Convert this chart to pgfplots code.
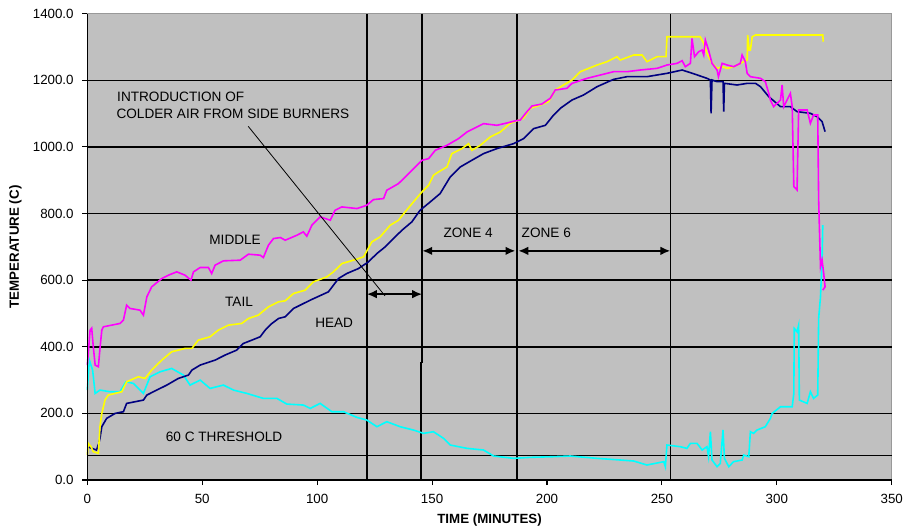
\documentclass[border=0pt]{standalone}
\usepackage{pgfplots}
\pgfplotsset{compat=1.18}
\usepackage{fontspec}
\setmainfont{Liberation Sans}
\usetikzlibrary{arrows.meta}
\definecolor{bggray}{RGB}{192,192,192}
\definecolor{cmag}{RGB}{255,0,255}
\definecolor{cyel}{RGB}{255,255,0}
\definecolor{cnavy}{RGB}{0,0,128}
\definecolor{ccyan}{RGB}{0,255,255}
\begin{document}
\begin{tikzpicture}
\useasboundingbox (-65.5pt,-36.75pt) rectangle (612.5pt,360pt);
\begin{axis}[
  scale only axis,
  width=603.3pt, height=349.7pt,
  xmin=0, xmax=350, ymin=0, ymax=1400,
  xtick={0,50,...,350}, ytick={0,200,...,1400},
  xtick pos=left, ytick pos=left,
  tick align=outside, major tick length=3.75pt,
  tick style={black, line width=0.8pt},
  axis background/.style={fill=bggray},
  axis line style={draw=black!40, line width=0.8pt},
  /pgf/number format/assume math mode=true,
  yticklabel={\pgfmathprintnumber[fixed,fixed zerofill,precision=1,1000 sep={}]{\tick}},
  yticklabel shift=3pt,
  xticklabel shift=3pt,
  ticklabel style={font=\fontsize{10}{12}\selectfont},
  xlabel={TIME (MINUTES)}, ylabel={TEMPERATURE (C)},
  label style={font=\fontsize{10}{12}\selectfont\bfseries},
  xlabel style={at={(axis description cs:0.5,-0.0858)}, anchor=center},
  ylabel style={at={(axis description cs:-0.0895,0.5)}, anchor=center},
  clip=false,
]
% grid and reference lines
\foreach \yy in {200,400,600,800,1000,1200,73} {
  \edef\tmp{\noexpand\draw[black, line width=1.1pt] (axis cs:0,\yy) -- (axis cs:350,\yy);}\tmp
}
\draw[black, line width=1.1pt] (axis cs:121.6,0) -- (axis cs:121.6,1400);
\draw[black, line width=1.1pt] (axis cs:145.7,1400) -- (axis cs:145.7,351);
\draw[black, line width=1.1pt] (axis cs:145.1,354) -- (axis cs:145.1,0);
\draw[black, line width=1.1pt] (axis cs:186.9,0) -- (axis cs:186.9,1400);
\draw[black, line width=1.1pt] (axis cs:253.7,0) -- (axis cs:253.7,1400);

% 60 C threshold / cyan
\addplot[ccyan, line width=1.2pt] coordinates {
(0,270) (0.9,360) (2.3,330) (3.4,260) (5.5,270) (9.9,265) (14.2,265) (16.8,295) (20,290) (24.4,260) (27.3,310) (31.7,325) (36.7,335) (41.8,315) (44.7,285) (49.1,300) (53.4,275) (59.2,285) (63.6,270) (69.4,260) (76.6,245) (82.5,245) (86.8,228) (94,225) (97,215) (101.3,230) (106.4,205) (111.5,205) (117.3,188) (121.6,180) (126,160) (130.3,175) (136.1,160) (141.9,150) (146.3,140) (150.6,145) (155,125) (157.9,105) (165.2,95) (172.4,90) (176.8,72) (185.5,65) (192.7,68) (202.9,70) (210.1,72) (221.8,65) (231.9,60) (237.7,57) (243.5,45) (250.8,55) (251.5,40) (252.2,105) (258,100) (260.9,95) (262.4,110) (265.3,110) (267.5,90) (269.6,100) (270.3,70) (271.1,145) (271.8,60) (274,40) (275.4,50) (276.6,150) (277.2,65) (279.1,40) (281.2,55) (284.9,60) (285.6,75) (287.8,70) (288.5,145) (289.9,140) (291.4,150) (295,160) (297.2,185) (298,200) (301.6,220) (306.7,220) (307.4,260) (307.6,455) (308.8,445) (309.5,465) (309.8,240) (313.2,230) (314.6,265) (316,245) (317.8,255) (318.2,485) (319,550) (319.7,660) (320,765)
};
% HEAD / navy
\addplot[cnavy, line width=1.2pt] coordinates {
(0,100) (2,95) (4,90) (5,110) (5.5,125) (6.3,160) (8.4,185) (12.1,200) (15.7,205) (17.1,230) (20.8,235) (24.4,240) (25.9,255) (30.2,270) (34.6,285) (39.6,305) (44,315) (45.5,330) (49.1,345) (55.6,360) (59.9,375) (65,390) (67.9,410) (71.6,420) (75.2,430) (77.4,450) (80.3,470) (83.2,485) (86.1,490) (89.7,515) (97,540) (104.9,565) (109.3,605) (112.9,620) (118,635) (122.3,655) (126,680) (129.6,700) (133.2,725) (136.9,750) (141.2,775) (144.8,810) (149.2,835) (153.5,860) (157.9,910) (162.3,940) (167.3,960) (172.4,980) (178.2,995) (185.5,1010) (189.8,1025) (194.2,1055) (199.3,1065) (202.9,1096) (205.8,1116) (210.9,1141) (215.9,1156) (221.8,1181) (229,1203) (234.8,1211) (243.5,1211) (252.2,1221) (258.8,1231) (262.4,1223) (266.7,1213) (269.6,1206) (271.1,1201) (271.4,1101) (271.8,1201) (274,1196) (276.6,1196) (276.9,1106) (277.2,1191) (282.7,1186) (287.1,1191) (290.7,1191) (292.9,1181) (296.5,1151) (301.6,1121) (305.9,1121) (308.8,1106) (314.6,1101) (317.5,1091) (319.7,1076) (321,1046)
};
% TAIL / yellow
\addplot[cyel, line width=1.2pt] coordinates {
(0,75) (0.4,110) (1.6,100) (2.6,85) (4.8,80) (5.5,160) (6.3,200) (7.7,240) (9.1,255) (15,265) (17.1,295) (22.2,310) (25.1,305) (28,330) (32.4,360) (36.7,385) (42.5,395) (45.5,395) (48.3,420) (53.4,430) (57,450) (61.4,465) (67.2,470) (70.1,485) (74.4,495) (78.8,520) (83.2,535) (86.1,538) (89.7,560) (94.8,570) (98.4,595) (104.2,610) (107.1,625) (110.8,650) (115.8,660) (120.2,670) (123.8,715) (127.4,730) (131.8,765) (135.4,780) (138.3,805) (141.9,835) (145.6,865) (148.5,885) (150.6,915) (152.8,925) (156.5,940) (158.6,980) (163,995) (165.9,1010) (167.3,990) (171,1005) (175.3,1030) (179.7,1045) (184,1071) (189.8,1086) (192.7,1116) (197.1,1126) (200.7,1136) (203.6,1171) (207.2,1186) (210.9,1201) (214.5,1226) (221.8,1246) (226.1,1256) (230.5,1271) (231.9,1261) (237.7,1276) (241.4,1276) (243.5,1256) (247.9,1271) (251.8,1271) (252.2,1331) (266.7,1331) (268.2,1311) (269.6,1281) (271.8,1251) (274,1236) (276.2,1241) (278.4,1236) (281.2,1241) (285.6,1256) (287.1,1261) (287.3,1336) (288,1291) (288.5,1291) (289.3,1331) (290.7,1336) (320,1336) (320.2,1316)
};
% MIDDLE / magenta
\addplot[cmag, line width=1.2pt] coordinates {
(0,345) (1.2,450) (1.9,456) (2.6,400) (3.4,345) (4.8,340) (5.5,395) (6.3,450) (7,460) (10.6,465) (14.2,470) (15.7,480) (17.1,525) (18.6,515) (22.9,510) (24.4,495) (25.9,550) (28,580) (32.4,605) (35.3,615) (38.9,625) (42.5,615) (45.1,600) (46.2,625) (49.1,638) (52.7,638) (54.1,620) (55.6,645) (59.2,658) (66.5,660) (70.1,678) (75.2,675) (76.6,668) (78.8,705) (81,725) (84,728) (86.1,720) (91.2,735) (94,745) (95.5,732) (97.7,765) (101.3,790) (105.7,780) (107.8,810) (110.7,820) (117.3,815) (121.6,825) (124.5,842) (128.9,845) (130.3,870) (135.4,890) (139.8,920) (143.4,945) (145.6,960) (148.5,965) (151.4,990) (156.5,1005) (161.5,1025) (165.2,1045) (172.4,1070) (178.2,1065) (182.6,1072) (186,1078) (188.4,1081) (191.3,1106) (193.5,1123) (197.8,1129) (201.4,1146) (203.6,1171) (208.7,1176) (210.9,1191) (217.4,1206) (223.2,1216) (229,1226) (234.8,1226) (240.6,1231) (247.9,1236) (252.2,1246) (256.6,1251) (258.8,1259) (260.2,1241) (262.4,1251) (263.1,1326) (263.6,1300) (264.2,1271) (266,1286) (267.5,1291) (268.2,1276) (268.9,1321) (270.3,1291) (271.8,1251) (274,1231) (274.6,1211) (276.2,1251) (278.4,1246) (281.2,1241) (284.1,1251) (284.9,1276) (286.3,1256) (287.1,1221) (288.5,1211) (292.9,1206) (295,1196) (296.5,1161) (297.2,1141) (298.6,1121) (301.6,1141) (302.3,1186) (303,1121) (305.9,1161) (306.7,1121) (307.4,881) (308.8,871) (309.5,1111) (313.2,1111) (314.6,1071) (316,1096) (317.8,1096) (318.2,841) (319,640) (319.7,660) (320.4,620) (321,580) (320,570)
};

% left / bottom axis lines in black
\draw[black, line width=1.1pt] (rel axis cs:0,0) -- (rel axis cs:0,1);
\draw[black, line width=1.1pt] (rel axis cs:0,0) -- (rel axis cs:1,0);

% annotations
\draw[black, line width=0.6pt] (axis cs:70,1062) -- (axis cs:129.5,553);
\tikzset{zarrow/.style={black, line width=1.8pt, {Latex[length=7.5pt,width=6.5pt]}-{Latex[length=7.5pt,width=6.5pt]}}}
\draw[zarrow] (axis cs:121.6,558) -- (axis cs:145.7,558);
\draw[zarrow] (axis cs:145.7,688) -- (axis cs:186.3,688);
\draw[zarrow] (axis cs:187.5,688) -- (axis cs:253.7,688);

\begin{scope}[every node/.style={font=\fontsize{10.2}{12}\selectfont, inner sep=0pt}]
\node[anchor=west] at (axis cs:12.9,1150) {INTRODUCTION OF};
\node[anchor=west] at (axis cs:12.6,1099) {COLDER AIR FROM SIDE BURNERS};
\node at (axis cs:64.3,722) {MIDDLE};
\node at (axis cs:66,534) {TAIL};
\node at (axis cs:107.4,471) {HEAD};
\node at (axis cs:59.5,129) {60 C THRESHOLD};
\node at (axis cs:165.7,741) {ZONE 4};
\node at (axis cs:199.7,741) {ZONE 6};
\end{scope}
\end{axis}
\end{tikzpicture}
\end{document}
